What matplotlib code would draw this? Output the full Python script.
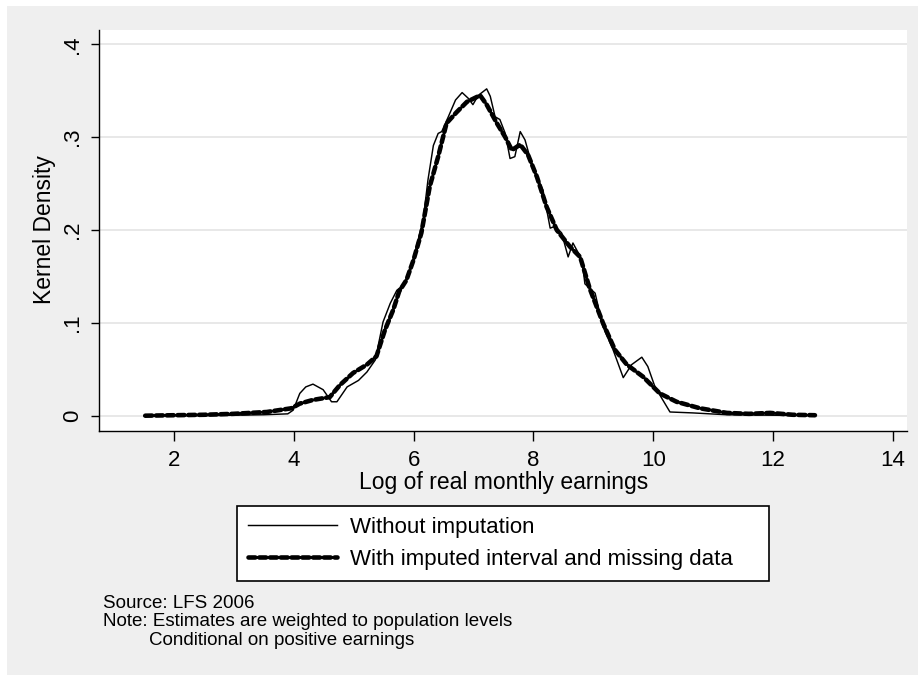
import matplotlib
matplotlib.use("Agg")
import matplotlib.pyplot as plt
from matplotlib.patches import Rectangle

plt.rcParams['font.family'] = ['Liberation Sans', 'DejaVu Sans']

# ---- data ----
x_without = [1.5, 2.0, 2.5, 3.0, 3.5, 3.9, 3.99, 4.10, 4.20, 4.32, 4.49, 4.63, 4.72,
             4.89, 5.08, 5.22, 5.36, 5.49, 5.61, 5.72, 5.85, 6.00, 6.16, 6.24, 6.33,
             6.41, 6.47, 6.58, 6.70, 6.81, 6.91, 6.99, 7.08, 7.22, 7.28, 7.36, 7.44,
             7.53, 7.61, 7.69, 7.78, 7.86, 7.99, 8.16, 8.28, 8.36, 8.47, 8.58, 8.66,
             8.81, 8.86, 9.03, 9.16, 9.33, 9.50, 9.64, 9.81, 9.91, 10.03, 10.28,
             10.66, 11.23, 12.0, 12.7]
y_without = [0.0, 0.0, 0.0, 0.0005, 0.001, 0.002, 0.006, 0.024, 0.031, 0.034, 0.028,
             0.015, 0.015, 0.031, 0.038, 0.047, 0.060, 0.101, 0.121, 0.135, 0.142,
             0.170, 0.211, 0.254, 0.291, 0.304, 0.306, 0.322, 0.340, 0.348, 0.342,
             0.335, 0.345, 0.352, 0.344, 0.322, 0.319, 0.304, 0.277, 0.279, 0.306,
             0.297, 0.267, 0.243, 0.202, 0.204, 0.197, 0.171, 0.186, 0.168, 0.142,
             0.132, 0.096, 0.071, 0.041, 0.055, 0.063, 0.053, 0.031, 0.004, 0.003,
             0.001, 0.0005, 0.0]

x_imputed = [1.52, 2.0, 2.5, 2.99, 3.55, 3.96, 4.10, 4.32, 4.60, 4.77, 4.99, 5.22,
             5.38, 5.52, 5.66, 5.76, 5.88, 6.00, 6.13, 6.27, 6.41, 6.55, 6.72, 6.89,
             7.11, 7.22, 7.39, 7.53, 7.64, 7.78, 7.91, 8.06, 8.22, 8.39, 8.61, 8.78,
             8.94, 9.16, 9.36, 9.56, 9.83, 10.11, 10.39, 10.78, 11.23, 11.6, 11.95,
             12.33, 12.70]
y_imputed = [0.0, 0.0005, 0.001, 0.002, 0.004, 0.008, 0.013, 0.017, 0.020, 0.033,
             0.046, 0.055, 0.064, 0.092, 0.114, 0.134, 0.146, 0.168, 0.197, 0.247,
             0.279, 0.315, 0.327, 0.338, 0.345, 0.335, 0.315, 0.300, 0.286, 0.292,
             0.281, 0.257, 0.225, 0.200, 0.182, 0.171, 0.137, 0.100, 0.071, 0.055,
             0.042, 0.024, 0.015, 0.008, 0.003, 0.002, 0.003, 0.001, 0.0005]

x_ticks = [2, 4, 6, 8, 10, 12, 14]
y_ticks = [0, 0.1, 0.2, 0.3, 0.4]
y_tick_labels = ["0", ".1", ".2", ".3", ".4"]
series_labels = ["Without imputation", "With imputed interval and missing data"]
x_title = "Log of real monthly earnings"
y_title = "Kernel Density"
notes = ["Source: LFS 2006",
         "Note: Estimates are weighted to population levels",
         "Conditional on positive earnings"]

# ---- figure ----
W, H = 918, 675
fig = plt.figure(figsize=(W / 100, H / 100), dpi=100, facecolor='white')
bg = Rectangle((7 / W, 0), 1 - 7 / W, 1 - 6 / H, transform=fig.transFigure,
               facecolor='#EFEFEF', edgecolor='none', zorder=-10)
fig.patches.append(bg)

ax_l, ax_r, ax_t, ax_b = 99.3, 907, 30, 430.7
ax = fig.add_axes([ax_l / W, 1 - ax_b / H, (ax_r - ax_l) / W, (ax_b - ax_t) / H])
ax.set_facecolor('white')

ln1, = ax.plot(x_without, y_without, color='black', lw=1.05, solid_joinstyle='round')
ln2, = ax.plot(x_imputed, y_imputed, color='black', lw=3.3,
               linestyle=(0, (1.5, 0.85)), dash_capstyle='round')

ax.set_xlim(0.753, 14.237)
ax.set_ylim(-0.01616, 0.4154)
ax.set_xticks(x_ticks)
ax.set_xticklabels([str(t) for t in x_ticks], fontsize=16)
ax.set_yticks(y_ticks)
ax.set_yticklabels(y_tick_labels, fontsize=16, rotation=90, va='center')

for s in ['top', 'right']:
    ax.spines[s].set_visible(False)
for s in ['left', 'bottom']:
    ax.spines[s].set_color('black')
    ax.spines[s].set_linewidth(1.0)

ax.tick_params(axis='x', length=7, width=1.0, pad=7, colors='black')
ax.tick_params(axis='y', length=6, width=1.0, pad=6, colors='black')
ax.yaxis.grid(True, color='#E6E6E6', lw=1.3)
ax.set_axisbelow(True)

fig.text((ax_l + ax_r) / 2 / W, 1 - 471 / H, x_title, ha='center', va='top',
         fontsize=16.5)
fig.text(45 / W, 1 - 230 / H, y_title, ha='center', va='center', rotation=90,
         fontsize=16.5)

# legend
leg_x0, leg_y0, leg_x1, leg_y1 = 237, 506, 769, 582
leg = fig.legend([ln1, ln2], series_labels,
                 loc='upper left',
                 bbox_to_anchor=(leg_x0 / W, 1 - leg_y1 / H,
                                 (leg_x1 - leg_x0) / W, (leg_y1 - leg_y0) / H),
                 bbox_transform=fig.transFigure, mode='expand',
                 fontsize=16, frameon=True, fancybox=False, borderaxespad=0,
                 borderpad=0.5, handlelength=4.0, handletextpad=0.6,
                 labelspacing=0.5)
leg.get_frame().set_edgecolor('black')
leg.get_frame().set_linewidth(1.2)
leg.get_frame().set_facecolor('white')
leg.get_frame().set_alpha(1)

# notes
fig.text(103 / W, 1 - 595 / H, notes[0], ha='left', va='top', fontsize=13.5)
fig.text(103 / W, 1 - 613.5 / H, notes[1], ha='left', va='top', fontsize=13.5)
fig.text(149 / W, 1 - 632 / H, notes[2], ha='left', va='top', fontsize=13.5)

fig.savefig('out.png', dpi=100, facecolor=fig.get_facecolor())
